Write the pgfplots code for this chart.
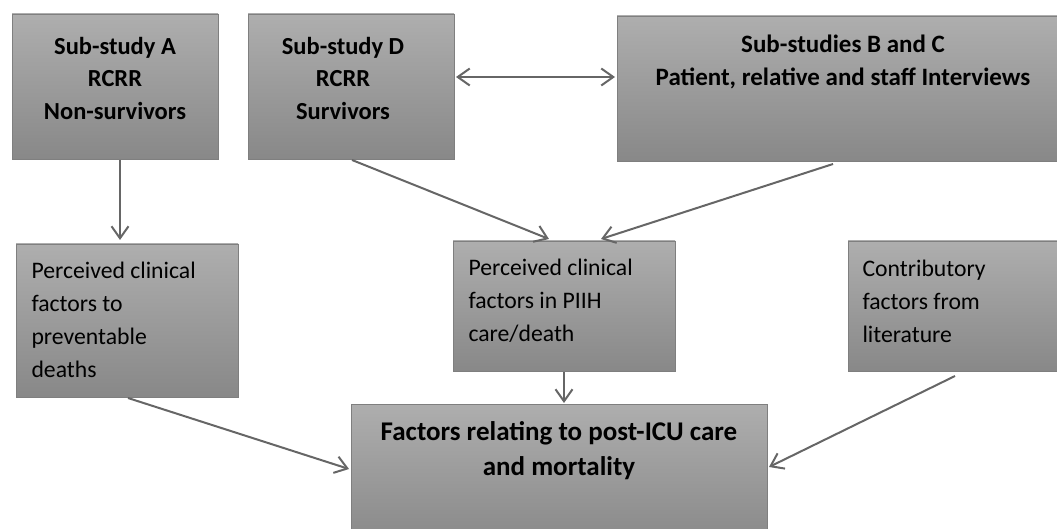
\documentclass[border=0pt]{standalone}
\usepackage{pgfplots}
\pgfplotsset{compat=1.18}
\usepackage{fontspec}
\setmainfont{Carlito}
\usetikzlibrary{arrows.meta}
\definecolor{boxtop}{HTML}{AEAEAE}
\definecolor{boxbot}{HTML}{888888}
\definecolor{boxline}{HTML}{7F7F7F}
\definecolor{arr}{HTML}{666666}
\begin{document}
\begin{tikzpicture}
\begin{axis}[
  x=1pt, y=1pt,
  xmin=0, xmax=1057, ymin=0, ymax=529,
  y dir=reverse,
  axis line style={draw=none},
  xtick=\empty, ytick=\empty,
  clip=true,
]
% boxes
\pgfplotsset{box/.style={draw=boxline, line width=0.9pt, top color=boxtop, bottom color=boxbot}}
\addplot[box] coordinates {(12,14) (218,14) (218,159) (12,159)} -- cycle;
\addplot[box] coordinates {(248,14) (454,14) (454,159) (248,159)} -- cycle;
\addplot[box] coordinates {(617,16) (1070,16) (1070,161) (617,161)} -- cycle;
\addplot[box] coordinates {(16,244) (238,244) (238,397) (16,397)} -- cycle;
\addplot[box] coordinates {(453,241) (675,241) (675,371) (453,371)} -- cycle;
\addplot[box] coordinates {(848,241) (1070,241) (1070,371) (848,371)} -- cycle;
\addplot[box] coordinates {(351,404) (767,404) (767,545) (351,545)} -- cycle;
% arrows
\pgfplotsset{arw/.style={draw=arr, line width=2pt, -{Straight Barb[length=12pt,width=17pt]}}}
\addplot[arw] coordinates {(120,160) (120,240)};
\addplot[draw=arr, line width=2pt, {Straight Barb[length=12pt,width=17pt]}-{Straight Barb[length=12pt,width=17pt]}] coordinates {(456,77) (615,77)};
\addplot[arw] coordinates {(352,160) (549,239)};
\addplot[arw] coordinates {(833,164) (601,239)};
\addplot[arw] coordinates {(564,372) (564,403)};
\addplot[arw] coordinates {(128,398) (349,469)};
\addplot[arw] coordinates {(955,376) (769,467)};
% texts
\node[align=center, font=\fontsize{24.5}{32.5}\selectfont\bfseries, anchor=center] at (axis cs:115,78) {Sub-study A\\RCRR\\Non-survivors};
\node[align=center, font=\fontsize{24.5}{32.5}\selectfont\bfseries, anchor=center] at (axis cs:343,78) {Sub-study D\\RCRR\\Survivors};
\node[align=center, font=\fontsize{25}{32.5}\selectfont\bfseries, anchor=center] at (axis cs:843,62) {Sub-studies B and C\\Patient, relative and staff Interviews};
\node[align=left, font=\fontsize{23.7}{33}\selectfont, anchor=west] at (axis cs:28,320) {Perceived clinical\\factors to\\preventable\\deaths};
\node[align=left, font=\fontsize{23.7}{33}\selectfont, anchor=west] at (axis cs:465,301) {Perceived clinical\\factors in PIIH\\care/death};
\node[align=left, font=\fontsize{23.7}{33}\selectfont, anchor=west] at (axis cs:859,301) {Contributory\\factors from\\literature};
\node[align=center, font=\fontsize{27}{35}\selectfont\bfseries, anchor=center] at (axis cs:559,451) {Factors relating to post-ICU care\\and mortality};
\end{axis}
\end{tikzpicture}
\end{document}
